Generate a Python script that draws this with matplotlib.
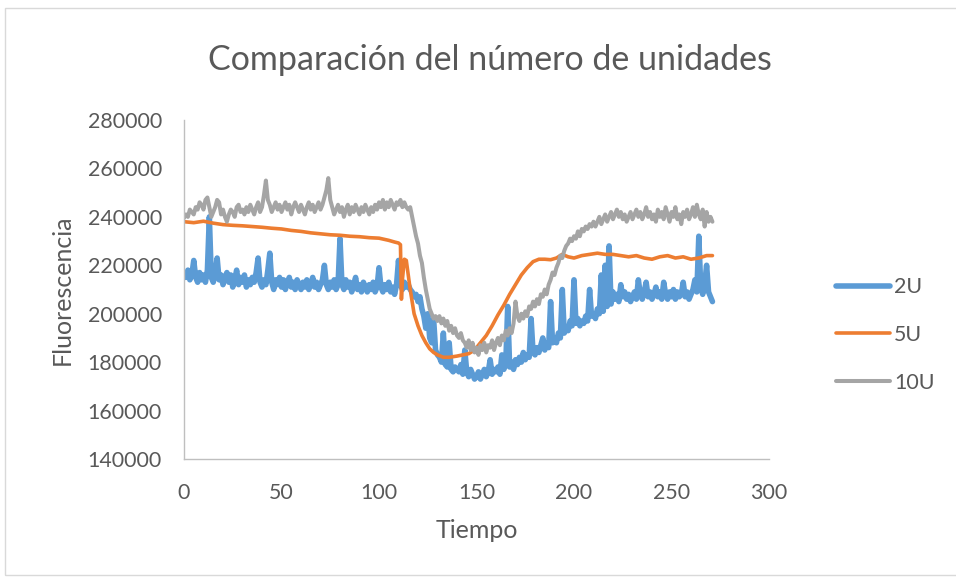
import numpy as np
import matplotlib
matplotlib.use("Agg")
import matplotlib.pyplot as plt
from matplotlib.patches import Rectangle

plt.rcParams['font.family'] = ['Lato', 'DejaVu Sans']

# --- data (fluorescence in thousands) ---
t_noisy = list(range(0, 272))  # Tiempo for 2U and 10U

fl_2u = [217, 215, 218, 214, 216, 222, 215, 213, 217, 214,
         216, 213, 218, 240, 215, 213, 217, 223, 214, 216,
         212, 215, 217, 213, 216, 211, 214, 218, 212, 215,
         213, 216, 211, 214, 212, 215, 213, 217, 223, 213,
         211, 214, 212, 218, 225, 213, 210, 214, 212, 215,
         211, 214, 210, 213, 215, 211, 213, 210, 214, 212,
         210, 213, 211, 214, 210, 212, 215, 211, 213, 210,
         212, 214, 220, 212, 210, 213, 211, 214, 210, 212,
         231, 212, 210, 214, 211, 213, 209, 212, 215, 210,
         212, 209, 213, 211, 209, 212, 210, 213, 209, 211,
         219, 211, 209, 212, 210, 213, 209, 211, 208, 212,
         222, 212, 210, 213, 211, 212, 210, 209, 207, 208,
         205, 207, 202, 199, 194, 200, 190, 188, 198, 185,
         183, 182, 180, 192, 179, 178, 188, 177, 176, 178,
         177, 176, 179, 175, 185, 176, 174, 177, 175, 173,
         174, 176, 173, 175, 177, 174, 176, 181, 175, 177,
         176, 178, 175, 183, 177, 179, 203, 178, 180, 177,
         181, 179, 182, 180, 184, 181, 183, 182, 198, 184,
         183, 186, 184, 187, 190, 185, 188, 186, 205, 188,
         190, 188, 192, 190, 210, 192, 194, 193, 197, 195,
         214, 196, 198, 195, 197, 196, 199, 197, 210, 199,
         200, 198, 202, 200, 216, 201, 220, 203, 228, 204,
         209, 206, 208, 205, 212, 207, 209, 206, 208, 205,
         207, 209, 206, 214, 208, 206, 209, 213, 207, 209,
         206, 208, 211, 207, 209, 206, 213, 208, 206, 209,
         207, 210, 206, 209, 207, 208, 213, 207, 209, 206,
         208, 210, 214, 209, 232, 211, 208, 212, 220, 209,
         207, 205]

fl_10u = [239.5, 241, 240, 243, 242, 241, 244, 243, 246, 245,
          243, 247, 248, 244, 240, 242, 244, 247, 246, 241,
          243, 240, 238, 241, 243, 242, 240, 244, 245, 242,
          243, 241, 244, 242, 245, 243, 241, 244, 246, 242,
          244, 249, 255, 247, 245, 242, 244, 246, 243, 245,
          242, 244, 246, 243, 245, 241, 244, 246, 244, 242,
          245, 243, 241, 244, 246, 243, 245, 242, 244, 246,
          243, 245, 248, 251, 256, 247, 244, 241, 243, 245,
          242, 244, 240, 243, 245, 241, 244, 242, 245, 243,
          241, 244, 242, 245, 243, 241, 244, 242, 245, 243,
          246, 244, 247, 243, 246, 244, 247, 245, 243, 246,
          245, 247, 244, 246, 244, 243, 244, 240, 236, 232,
          229, 224, 221, 215, 210, 206, 202, 200, 198, 199,
          197, 199, 196, 198, 195, 197, 193, 195, 192, 194,
          191, 190, 192, 189, 188, 186, 189, 185, 188, 184,
          186, 183, 187, 185, 188, 184, 187, 186, 189, 185,
          188, 190, 187, 191, 189, 193, 191, 194, 192, 196,
          205, 199, 197, 200, 198, 201, 199, 203, 202, 205,
          203, 206, 204, 208, 207, 210, 208, 212, 214, 217,
          216, 219, 221, 224, 223, 226, 228, 229, 231, 230,
          232, 231, 234, 232, 235, 234, 236, 235, 237, 236,
          238, 236, 238, 240, 237, 239, 241, 238, 240, 242,
          239, 241, 243, 240, 242, 239, 241, 238, 240, 242,
          239, 241, 243, 240, 242, 239, 241, 244, 240, 242,
          239, 241, 238, 243, 240, 242, 239, 244, 241, 238,
          242, 240, 244, 239, 241, 237, 242, 240, 243, 239,
          241, 244, 240, 245, 241, 239, 243, 236, 242, 238,
          240, 238]

t_5u = [0, 5, 10, 15, 20, 25, 30, 35, 40, 45, 50, 55, 60, 65, 70, 75, 80, 85, 90, 95, 100,
        105, 108, 110, 111, 111.5, 112, 113, 114, 115, 116, 117, 118, 120, 122, 124, 126, 128,
        130, 133, 136, 140, 143, 146, 149, 152, 155, 158, 161, 164, 167, 170, 173, 176, 179,
        182, 185, 188, 191, 194, 197, 200, 204, 208, 212, 216, 220, 224, 228, 232, 236, 240,
        244, 248, 252, 256, 260, 264, 268, 271]
fl_5u = [238.0, 237.6, 238.2, 237.4, 236.8, 236.5, 236.3, 236.0, 235.7, 235.3, 235.0, 234.4,
         234.0, 233.4, 233.0, 232.6, 232.4, 232.0, 231.8, 231.4, 231.2, 230.3, 229.6, 229.2,
         228.5, 206, 214, 222.5, 222, 216, 210, 205, 200, 195, 191, 188, 185.5, 184, 183,
         182, 182, 182.5, 183, 183.5, 185, 188, 191, 195, 199.5, 203.5, 208, 212, 216, 219,
         221.5, 222.5, 222.5, 222.3, 223, 224.5, 223.5, 223, 224, 224.5, 225, 224.5, 224.5,
         224, 223.5, 224, 223, 222.5, 223.5, 224, 223, 223.5, 222.5, 223, 224, 224]

fl_2u = np.array(fl_2u) * 1000
fl_10u = np.array(fl_10u) * 1000
fl_5u = np.array(fl_5u) * 1000

# --- figure ---
W, H = 956, 580
fig = plt.figure(figsize=(W / 100, H / 100), dpi=100)
fig.patches.append(Rectangle((5 / W, 5 / H), 1.1, (H - 13) / H, transform=fig.transFigure,
                             fill=False, edgecolor='#D9D9D9', linewidth=1))

ax = fig.add_axes([184 / W, 1 - 459 / H, (769 - 184) / W, (459 - 120) / H])

line_kw = dict(solid_capstyle='round', solid_joinstyle='round')
ax.plot(t_noisy, fl_2u, color='#5B9BD5', lw=4.0, label='2U', **line_kw)
ax.plot(t_5u, fl_5u, color='#ED7D31', lw=2.6, label='5U', **line_kw)
ax.plot(t_noisy, fl_10u, color='#A5A5A5', lw=2.9, label='10U', **line_kw)

ax.set_xlim(0, 300)
ax.set_ylim(140000, 280000)
ax.set_xticks(range(0, 301, 50))
ax.set_yticks(range(140000, 280001, 20000))

for s in ['top', 'right']:
    ax.spines[s].set_visible(False)
for s in ['left', 'bottom']:
    ax.spines[s].set_color('#BFBFBF')
    ax.spines[s].set_linewidth(1)
ax.tick_params(length=0, labelsize=15.4, colors='#595959')
ax.tick_params(axis='x', pad=17)
ax.tick_params(axis='y', pad=16)

ax.set_xlabel('Tiempo', fontsize=18, color='#595959', labelpad=12)
ax.set_ylabel('Fluorescencia', fontsize=18, color='#595959', labelpad=10)

fig.text(490 / W, 1 - 60 / H, 'Comparación del número de unidades', ha='center', va='center',
         fontsize=24.5, color='#595959')

ax.legend(loc='center left', bbox_to_anchor=(1.082, 0.366), frameon=False, fontsize=15.4,
          handlelength=2.5, labelspacing=1.3, handletextpad=0.2, labelcolor='#595959')

fig.savefig('out.png', dpi=100)
